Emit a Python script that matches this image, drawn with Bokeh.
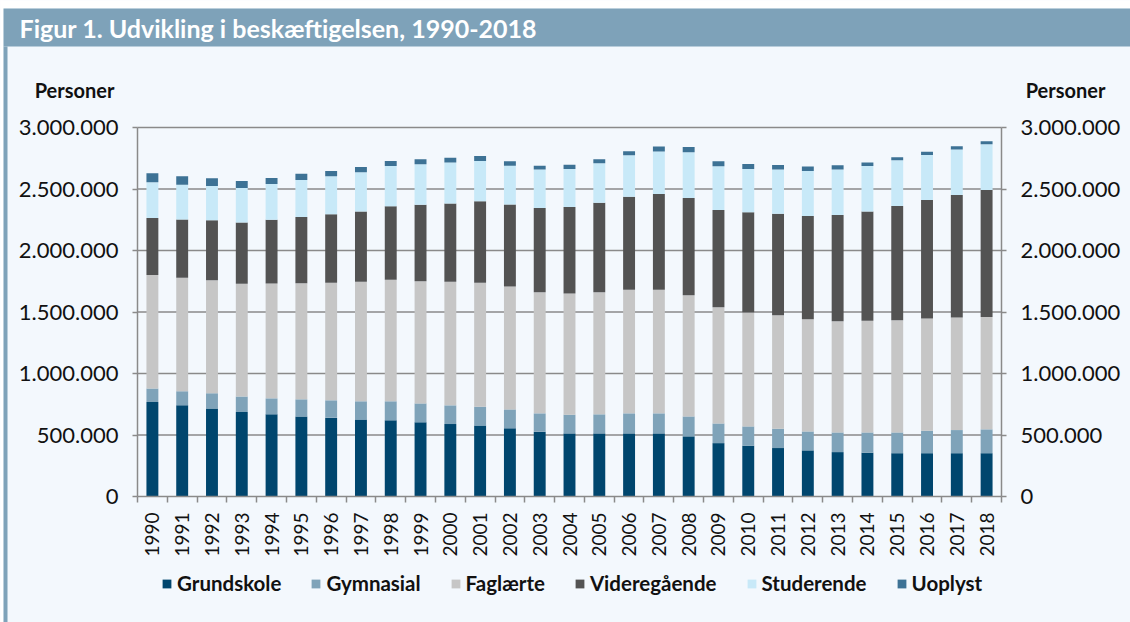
import math
from bokeh.plotting import figure
from bokeh.models import (ColumnDataSource, Range1d, FixedTicker, LinearAxis,
                          Legend, LegendItem, Label, BoxAnnotation)
from bokeh.embed import file_html
from bokeh.resources import INLINE

# ---------------- data (persons, in thousands) -------------
years = [1990, 1991, 1992, 1993, 1994, 1995, 1996, 1997, 1998, 1999,
         2000, 2001, 2002, 2003, 2004, 2005, 2006, 2007, 2008, 2009,
         2010, 2011, 2012, 2013, 2014, 2015, 2016, 2017, 2018]
grundskole = [768, 741, 716, 687, 668, 651, 641, 627, 619, 603,
              589, 578, 554, 527, 513, 513, 513, 513, 489, 434,
              413, 394, 375, 361, 356, 352, 352, 352, 352]
gymnasial = [111, 114, 123, 125, 130, 139, 141, 147, 155, 154,
             152, 152, 154, 149, 152, 155, 163, 163, 162, 160,
             157, 157, 154, 160, 165, 169, 183, 188, 194]
faglaerte = [921, 923, 920, 917, 934, 944, 955, 971, 988, 994,
             1004, 1007, 999, 985, 985, 993, 1004, 1004, 986, 945,
             926, 923, 912, 904, 907, 912, 912, 915, 914]
videregaaende = [464, 475, 486, 499, 518, 538, 557, 573, 597, 621,
                 638, 663, 668, 684, 703, 728, 758, 780, 790, 790,
                 814, 825, 839, 863, 890, 928, 963, 996, 1031]
studerende = [290, 282, 279, 280, 291, 301, 309, 318, 328, 329,
              332, 328, 315, 313, 310, 320, 336, 344, 372, 356,
              353, 359, 367, 370, 369, 373, 367, 370, 373]
uoplyst = [74, 68, 63, 57, 49, 52, 44, 43, 41, 41,
           40, 41, 36, 32, 35, 33, 33, 41, 43, 41,
           41, 38, 35, 35, 28, 24, 25, 27, 25]

series_names = ["Grundskole", "Gymnasial", "Faglærte", "Videregående", "Studerende", "Uoplyst"]
series_values = [grundskole, gymnasial, faglaerte, videregaaende, studerende, uoplyst]
series_colors = ["#00466e", "#7fa3b9", "#c6c6c6", "#535353", "#c8e9f8", "#3d7295"]

y_ticks = [0, 500000, 1000000, 1500000, 2000000, 2500000, 3000000]
y_tick_labels = ["0", "500.000", "1.000.000", "1.500.000", "2.000.000", "2.500.000", "3.000.000"]

title_text = "Figur 1. Udvikling i beskæftigelsen, 1990-2018"
unit_text = "Personer"

# ---------------- styles / layout (pixels) -------------
BANNER = "#7ea2b9"
PANEL = "#f3f8fd"
AXIS = "#8a8a8a"
FONT = "Lato"

W, H = 1130, 622
PX_L, PX_R, PX_T, PX_B = 137, 1001, 127, 496     # plotting area inside the canvas
X0, X1 = years[0] - 0.5, years[-1] + 0.5
Y0, Y1 = y_ticks[0], y_ticks[-1]
xs = (X1 - X0) / (PX_R - PX_L)
ys = (Y1 - Y0) / (PX_B - PX_T)
x_range = Range1d(X0 - PX_L * xs, X1 + (W - PX_R) * xs)
y_range = Range1d(Y0 - (H - PX_B) * ys, Y1 + PX_T * ys)

data = {"year": years}
keys = []
for i, (name, vals) in enumerate(zip(series_names, series_values)):
    k = f"s{i}"
    keys.append(k)
    data[k] = [v * 1000 for v in vals]
source = ColumnDataSource(data)

p = figure(width=W, height=H, x_range=x_range, y_range=y_range,
           output_backend="svg", toolbar_location=None,
           background_fill_color=PANEL, border_fill_color=PANEL,
           outline_line_color=None, min_border=0)
p.grid.visible = False

# horizontal grid lines at the y ticks, spanning the year range
grid_src = ColumnDataSource({"y": y_ticks[1:], "x0": [X0] * (len(y_ticks) - 1),
                             "x1": [X1] * (len(y_ticks) - 1)})
p.segment(x0="x0", x1="x1", y0="y", y1="y", source=grid_src,
          line_color=AXIS, line_width=1.5)

renderers = p.vbar_stack(keys, x="year", width=0.4, color=series_colors,
                         line_color=None, source=source)

p.yaxis[0].fixed_location = X0
right_axis = LinearAxis(fixed_location=X1)
p.add_layout(right_axis, "right")

for ax in p.yaxis:
    ax.bounds = (Y0, Y1)
    ax.ticker = FixedTicker(ticks=y_ticks)
    ax.major_label_overrides = {t: l for t, l in zip(y_ticks, y_tick_labels)}
    ax.axis_line_color = AXIS
    ax.axis_line_width = 1.5
    ax.major_tick_line_color = AXIS
    ax.major_tick_line_width = 1.5
    ax.major_tick_out = 5
    ax.major_tick_in = 0
    ax.minor_tick_line_color = None
    ax.major_label_standoff = 14
    ax.major_label_text_font = FONT
    ax.major_label_text_font_size = "22px"
    ax.major_label_text_color = "#111111"

xa = p.xaxis[0]
xa.fixed_location = Y0
xa.bounds = (X0, X1)
xa.ticker = FixedTicker(ticks=years, minor_ticks=[y - 0.5 for y in years] + [years[-1] + 0.5])
xa.major_label_overrides = {y: str(y) for y in years}
xa.axis_line_color = AXIS
xa.axis_line_width = 1.5
xa.major_tick_line_color = None
xa.major_tick_out = 6
xa.major_tick_in = 0
xa.minor_tick_line_color = AXIS
xa.minor_tick_line_width = 1.5
xa.minor_tick_out = 6
xa.minor_tick_in = 0
xa.major_label_orientation = math.pi / 2
xa.major_label_standoff = 10
xa.major_label_text_font = FONT
xa.major_label_text_font_size = "19px"
xa.major_label_text_color = "#111111"

# screen units: x from the left edge, y from the bottom edge of the canvas
legend = Legend(items=[LegendItem(label=n, renderers=[r]) for n, r in zip(series_names, renderers)],
                orientation="horizontal", location=(161, H - 579 - 16),
                background_fill_alpha=0, border_line_color=None,
                glyph_width=11, glyph_height=11, label_standoff=5, spacing=29,
                padding=4, margin=0,
                label_text_font=FONT, label_text_font_style="bold",
                label_text_font_size="20.5px", label_text_color="#111111")
p.add_layout(legend)

def box(left, right, top, bottom, color):
    p.add_layout(BoxAnnotation(left=left, right=right, bottom=H - bottom, top=H - top,
                               left_units="screen", right_units="screen",
                               bottom_units="screen", top_units="screen",
                               fill_color=color, fill_alpha=1, line_color=None,
                               level="underlay"))

box(-5, W + 5, -5, 8, "white")        # page strip above the banner
box(-5, 3, -5, H + 5, "white")        # page strip left of the panel
box(3, W + 5, 8, 46, BANNER)          # title banner
box(3, 7, 46, H + 5, BANNER)          # left edge of the panel

p.add_layout(Label(x=19, y=H - 27, x_units="screen", y_units="screen", text=title_text,
                   text_font=FONT, text_font_style="bold", text_font_size="25px",
                   text_align="left", text_baseline="middle", text_color="white"))
p.add_layout(Label(x=74, y=H - 89, x_units="screen", y_units="screen", text=unit_text,
                   text_font=FONT, text_font_style="bold", text_font_size="20px",
                   text_align="center", text_baseline="middle", text_color="#111111"))
p.add_layout(Label(x=1065, y=H - 89, x_units="screen", y_units="screen", text=unit_text,
                   text_font=FONT, text_font_style="bold", text_font_size="20px",
                   text_align="center", text_baseline="middle", text_color="#111111"))

open("out.html", "w").write(file_html(p, INLINE))
